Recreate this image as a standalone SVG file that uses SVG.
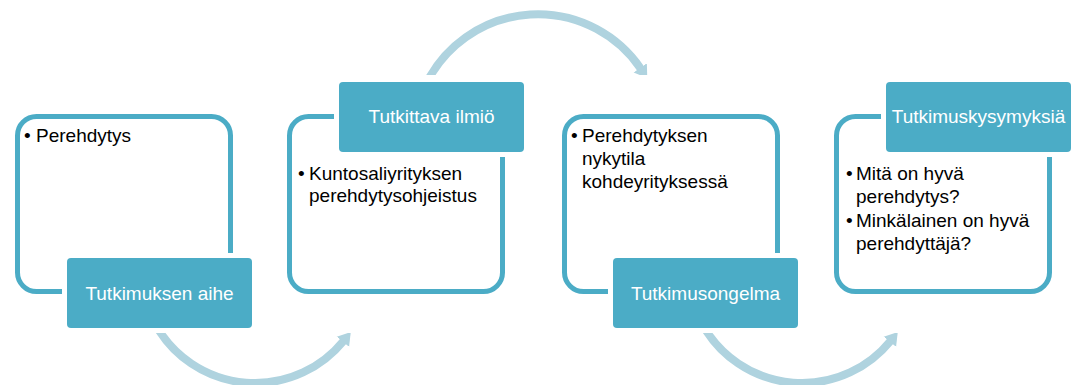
<svg xmlns="http://www.w3.org/2000/svg" width="1076" height="385" viewBox="0 0 1076 385">
  <style>
    .frame { fill: #FFFFFF; stroke: #4BACC6; stroke-width: 5; }
    .label { fill: #4BACC6; stroke: #FFFFFF; stroke-width: 10; paint-order: stroke fill; }
    .ltxt { font-family: "Liberation Sans", Arial, sans-serif; font-size: 19px; fill: #FFFFFF; text-anchor: middle; }
    .btxt { font-family: "Liberation Sans", Arial, sans-serif; font-size: 19px; fill: #000000; }
    .arc { fill: none; stroke: #AFD3DF; stroke-width: 8; }
  </style>
  <defs>
    <marker id="head" markerUnits="userSpaceOnUse" viewBox="0 0 14 18" refX="1" refY="9" markerWidth="14" markerHeight="18" orient="auto">
      <path d="M0,1 L12.5,9 L0,17 Z" fill="#AFD3DF"/>
    </marker>
    <clipPath id="clipLow"><rect x="0" y="333" width="1076" height="60"/></clipPath>
    <clipPath id="clipHigh"><rect x="0" y="0" width="1076" height="75"/></clipPath>
  </defs>
  <rect x="0" y="0" width="1076" height="385" fill="#FFFFFF"/>

  <g id="connectors">
    <path class="arc" clip-path="url(#clipLow)" d="M156.3,326 A114,114 0 0 0 343.5,341" marker-end="url(#head)"/>
    <path class="arc" clip-path="url(#clipHigh)" d="M427,82 A124.6,124.6 0 0 1 640.8,68.7" marker-end="url(#head)"/>
    <path class="arc" clip-path="url(#clipLow)" d="M703.3,326 A114,114 0 0 0 890.5,341" marker-end="url(#head)"/>
  </g>

  <g id="node1">
    <rect class="frame" x="17.5" y="116.5" width="213" height="175" rx="19"/>
    <rect class="label" x="67" y="258" width="185" height="70" rx="4"/>
    <text class="ltxt" x="159.5" y="300">Tutkimuksen aihe</text>
    <text class="btxt" x="24" y="142">•</text>
    <text class="btxt" x="36" y="142">Perehdytys</text>
  </g>

  <g id="node2">
    <rect class="frame" x="289.5" y="116.5" width="213" height="175" rx="19"/>
    <rect class="label" x="339" y="82" width="185" height="70" rx="4"/>
    <text class="ltxt" x="431.5" y="123">Tutkittava ilmiö</text>
    <text class="btxt" x="298" y="180">•</text>
    <text class="btxt" x="309" y="180">Kuntosaliyrityksen</text>
    <text class="btxt" x="309" y="202">perehdytysohjeistus</text>
  </g>

  <g id="node3">
    <rect class="frame" x="564.5" y="116.5" width="213" height="175" rx="19"/>
    <rect class="label" x="613" y="258" width="185" height="70" rx="4"/>
    <text class="ltxt" x="705.5" y="300">Tutkimusongelma</text>
    <text class="btxt" x="571" y="142">•</text>
    <text class="btxt" x="582" y="142">Perehdytyksen</text>
    <text class="btxt" x="582" y="165">nykytila</text>
    <text class="btxt" x="582" y="188">kohdeyrityksessä</text>
  </g>

  <g id="node4">
    <rect class="frame" x="836.5" y="116.5" width="213" height="175" rx="19"/>
    <rect class="label" x="886" y="82" width="185" height="70" rx="4"/>
    <text class="ltxt" x="978.5" y="123">Tutkimuskysymyksiä</text>
    <text class="btxt" x="846" y="180">•</text>
    <text class="btxt" x="856" y="180">Mitä on hyvä</text>
    <text class="btxt" x="856" y="203">perehdytys?</text>
    <text class="btxt" x="846" y="227">•</text>
    <text class="btxt" x="856" y="227">Minkälainen on hyvä</text>
    <text class="btxt" x="856" y="250">perehdyttäjä?</text>
  </g>
</svg>
